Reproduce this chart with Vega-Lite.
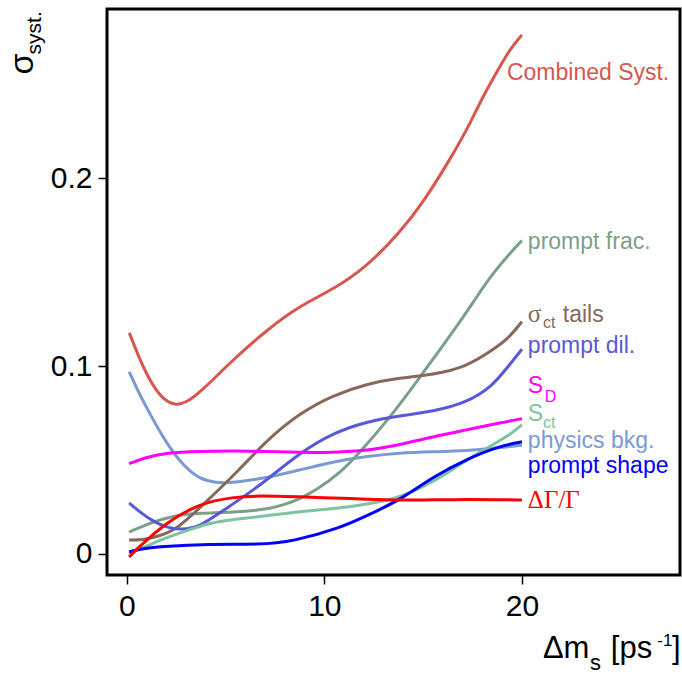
{
  "$schema": "https://vega.github.io/schema/vega-lite/v6.json",
  "width": 573,
  "height": 566,
  "autosize": {"type": "none"},
  "padding": {"left": 107, "top": 9, "right": 2, "bottom": 101},
  "background": "white",
  "config": {
    "view": {"stroke": "black", "strokeWidth": 3},
    "axis": {"domain": false, "grid": false, "tickColor": "black", "tickWidth": 1.5, "labelFont": "Liberation Sans", "labelFontSize": 30, "labelColor": "black"},
    "text": {"font": "Liberation Sans"}
  },
  "datasets": {
    "curves": [
      {"s": "Combined Syst.", "x": 0.13, "y": 0.1177}, {"s": "Combined Syst.", "x": 0.6, "y": 0.105}, {"s": "Combined Syst.", "x": 1.17, "y": 0.092}, {"s": "Combined Syst.", "x": 1.8, "y": 0.0825}, {"s": "Combined Syst.", "x": 2.44, "y": 0.079}, {"s": "Combined Syst.", "x": 3.0, "y": 0.0805}, {"s": "Combined Syst.", "x": 3.7, "y": 0.0858}, {"s": "Combined Syst.", "x": 5.37, "y": 0.1034}, {"s": "Combined Syst.", "x": 7.1, "y": 0.1194}, {"s": "Combined Syst.", "x": 8.76, "y": 0.1322}, {"s": "Combined Syst.", "x": 10.43, "y": 0.1407}, {"s": "Combined Syst.", "x": 12.15, "y": 0.153}, {"s": "Combined Syst.", "x": 13.82, "y": 0.1712}, {"s": "Combined Syst.", "x": 14.99, "y": 0.187}, {"s": "Combined Syst.", "x": 16.35, "y": 0.21}, {"s": "Combined Syst.", "x": 17.22, "y": 0.226}, {"s": "Combined Syst.", "x": 18.02, "y": 0.2437}, {"s": "Combined Syst.", "x": 18.89, "y": 0.2597}, {"s": "Combined Syst.", "x": 19.4, "y": 0.269}, {"s": "Combined Syst.", "x": 20.0, "y": 0.2765},

      {"s": "physics bkg.", "x": 0.12, "y": 0.097}, {"s": "physics bkg.", "x": 0.6, "y": 0.086}, {"s": "physics bkg.", "x": 1.2, "y": 0.074}, {"s": "physics bkg.", "x": 2.0, "y": 0.059}, {"s": "physics bkg.", "x": 2.9, "y": 0.0464}, {"s": "physics bkg.", "x": 3.7, "y": 0.0398}, {"s": "physics bkg.", "x": 4.5, "y": 0.0378}, {"s": "physics bkg.", "x": 5.4, "y": 0.0378}, {"s": "physics bkg.", "x": 7.1, "y": 0.0405}, {"s": "physics bkg.", "x": 8.8, "y": 0.0448}, {"s": "physics bkg.", "x": 10.4, "y": 0.049}, {"s": "physics bkg.", "x": 12.2, "y": 0.052}, {"s": "physics bkg.", "x": 13.8, "y": 0.0538}, {"s": "physics bkg.", "x": 15.5, "y": 0.0544}, {"s": "physics bkg.", "x": 17.2, "y": 0.0549}, {"s": "physics bkg.", "x": 18.9, "y": 0.0565}, {"s": "physics bkg.", "x": 20.0, "y": 0.058},

      {"s": "prompt frac.", "x": 0.12, "y": 0.0116}, {"s": "prompt frac.", "x": 1.2, "y": 0.0165}, {"s": "prompt frac.", "x": 2.4, "y": 0.0205}, {"s": "prompt frac.", "x": 3.7, "y": 0.0218}, {"s": "prompt frac.", "x": 5.4, "y": 0.022}, {"s": "prompt frac.", "x": 7.1, "y": 0.0237}, {"s": "prompt frac.", "x": 8.0, "y": 0.0262}, {"s": "prompt frac.", "x": 8.8, "y": 0.0295}, {"s": "prompt frac.", "x": 9.6, "y": 0.034}, {"s": "prompt frac.", "x": 10.8, "y": 0.043}, {"s": "prompt frac.", "x": 11.8, "y": 0.054}, {"s": "prompt frac.", "x": 13.3, "y": 0.0725}, {"s": "prompt frac.", "x": 14.2, "y": 0.085}, {"s": "prompt frac.", "x": 15.0, "y": 0.0965}, {"s": "prompt frac.", "x": 15.85, "y": 0.1088}, {"s": "prompt frac.", "x": 17.2, "y": 0.1285}, {"s": "prompt frac.", "x": 18.5, "y": 0.1498}, {"s": "prompt frac.", "x": 20.0, "y": 0.167},

      {"s": "σct tails", "x": 0.12, "y": 0.0074}, {"s": "σct tails", "x": 0.8, "y": 0.0074}, {"s": "σct tails", "x": 1.5, "y": 0.009}, {"s": "σct tails", "x": 2.5, "y": 0.0127}, {"s": "σct tails", "x": 3.7, "y": 0.0245}, {"s": "σct tails", "x": 5.7, "y": 0.0447}, {"s": "σct tails", "x": 7.1, "y": 0.0607}, {"s": "σct tails", "x": 8.76, "y": 0.075}, {"s": "σct tails", "x": 10.43, "y": 0.0845}, {"s": "σct tails", "x": 12.15, "y": 0.0906}, {"s": "σct tails", "x": 13.82, "y": 0.0938}, {"s": "σct tails", "x": 15.5, "y": 0.0954}, {"s": "σct tails", "x": 17.2, "y": 0.0997}, {"s": "σct tails", "x": 18.5, "y": 0.1085}, {"s": "σct tails", "x": 19.3, "y": 0.1145}, {"s": "σct tails", "x": 20.0, "y": 0.1237},

      {"s": "prompt dil.", "x": 0.12, "y": 0.0271}, {"s": "prompt dil.", "x": 0.7, "y": 0.022}, {"s": "prompt dil.", "x": 1.3, "y": 0.0175}, {"s": "prompt dil.", "x": 2.0, "y": 0.014}, {"s": "prompt dil.", "x": 2.8, "y": 0.0127}, {"s": "prompt dil.", "x": 3.7, "y": 0.0145}, {"s": "prompt dil.", "x": 4.7, "y": 0.0218}, {"s": "prompt dil.", "x": 6.0, "y": 0.031}, {"s": "prompt dil.", "x": 7.1, "y": 0.0394}, {"s": "prompt dil.", "x": 8.76, "y": 0.0538}, {"s": "prompt dil.", "x": 10.43, "y": 0.0644}, {"s": "prompt dil.", "x": 12.15, "y": 0.0705}, {"s": "prompt dil.", "x": 13.82, "y": 0.0736}, {"s": "prompt dil.", "x": 15.5, "y": 0.0758}, {"s": "prompt dil.", "x": 17.2, "y": 0.0805}, {"s": "prompt dil.", "x": 18.5, "y": 0.0893}, {"s": "prompt dil.", "x": 19.2, "y": 0.0985}, {"s": "prompt dil.", "x": 20.0, "y": 0.109},

      {"s": "SD", "x": 0.12, "y": 0.048}, {"s": "SD", "x": 1.0, "y": 0.0515}, {"s": "SD", "x": 2.0, "y": 0.0538}, {"s": "SD", "x": 3.7, "y": 0.0546}, {"s": "SD", "x": 5.4, "y": 0.0549}, {"s": "SD", "x": 7.1, "y": 0.0545}, {"s": "SD", "x": 8.8, "y": 0.054}, {"s": "SD", "x": 10.4, "y": 0.054}, {"s": "SD", "x": 12.2, "y": 0.0549}, {"s": "SD", "x": 13.8, "y": 0.058}, {"s": "SD", "x": 15.5, "y": 0.0624}, {"s": "SD", "x": 17.2, "y": 0.066}, {"s": "SD", "x": 18.9, "y": 0.0698}, {"s": "SD", "x": 20.0, "y": 0.072},

      {"s": "Sct", "x": 0.12, "y": 0.0005}, {"s": "Sct", "x": 1.0, "y": 0.004}, {"s": "Sct", "x": 1.7, "y": 0.0074}, {"s": "Sct", "x": 2.8, "y": 0.0115}, {"s": "Sct", "x": 4.2, "y": 0.0165}, {"s": "Sct", "x": 5.4, "y": 0.0183}, {"s": "Sct", "x": 6.7, "y": 0.0198}, {"s": "Sct", "x": 8.8, "y": 0.0225}, {"s": "Sct", "x": 10.8, "y": 0.0244}, {"s": "Sct", "x": 12.2, "y": 0.0265}, {"s": "Sct", "x": 13.8, "y": 0.0298}, {"s": "Sct", "x": 15.5, "y": 0.038}, {"s": "Sct", "x": 17.2, "y": 0.05}, {"s": "Sct", "x": 18.5, "y": 0.058}, {"s": "Sct", "x": 19.4, "y": 0.0634}, {"s": "Sct", "x": 20.0, "y": 0.0688},

      {"s": "prompt shape", "x": 0.12, "y": 0.001}, {"s": "prompt shape", "x": 0.6, "y": 0.0025}, {"s": "prompt shape", "x": 1.7, "y": 0.0038}, {"s": "prompt shape", "x": 4.2, "y": 0.0053}, {"s": "prompt shape", "x": 6.7, "y": 0.0048}, {"s": "prompt shape", "x": 8.4, "y": 0.0065}, {"s": "prompt shape", "x": 10.8, "y": 0.0137}, {"s": "prompt shape", "x": 12.2, "y": 0.0205}, {"s": "prompt shape", "x": 13.8, "y": 0.0285}, {"s": "prompt shape", "x": 15.5, "y": 0.041}, {"s": "prompt shape", "x": 17.2, "y": 0.0505}, {"s": "prompt shape", "x": 18.9, "y": 0.0575}, {"s": "prompt shape", "x": 20.0, "y": 0.0597},

      {"s": "ΔΓ/Γ", "x": 0.12, "y": -0.0017}, {"s": "ΔΓ/Γ", "x": 0.6, "y": 0.0035}, {"s": "ΔΓ/Γ", "x": 1.2, "y": 0.009}, {"s": "ΔΓ/Γ", "x": 2.0, "y": 0.0165}, {"s": "ΔΓ/Γ", "x": 3.7, "y": 0.027}, {"s": "ΔΓ/Γ", "x": 5.4, "y": 0.0302}, {"s": "ΔΓ/Γ", "x": 6.7, "y": 0.031}, {"s": "ΔΓ/Γ", "x": 8.8, "y": 0.0303}, {"s": "ΔΓ/Γ", "x": 10.4, "y": 0.0298}, {"s": "ΔΓ/Γ", "x": 12.2, "y": 0.029}, {"s": "ΔΓ/Γ", "x": 13.8, "y": 0.0285}, {"s": "ΔΓ/Γ", "x": 15.5, "y": 0.0288}, {"s": "ΔΓ/Γ", "x": 17.2, "y": 0.0289}, {"s": "ΔΓ/Γ", "x": 18.9, "y": 0.0288}, {"s": "ΔΓ/Γ", "x": 20.0, "y": 0.0287}
    ],
    "labels": [
      {"s": "Combined Syst.", "x": 19.24, "y": 0.2527, "t": "Combined Syst."},
      {"s": "prompt frac.", "x": 20.3, "y": 0.1626, "t": "prompt frac."},
      {"s": "σct tails", "x": 22.07, "y": 0.1237, "t": "tails"},
      {"s": "prompt dil.", "x": 20.3, "y": 0.1071, "t": "prompt dil."},
      {"s": "SD", "x": 20.3, "y": 0.0858, "t": "S"},
      {"s": "Sct", "x": 20.3, "y": 0.0708, "t": "S"},
      {"s": "physics bkg.", "x": 20.3, "y": 0.0562, "t": "physics bkg."},
      {"s": "prompt shape", "x": 20.3, "y": 0.0432, "t": "prompt shape"}
    ],
    "subs": [
      {"s": "σct tails", "x": 21.06, "y": 0.1205, "t": "ct"},
      {"s": "SD", "x": 21.16, "y": 0.081, "t": "D"},
      {"s": "Sct", "x": 21.06, "y": 0.0672, "t": "ct"}
    ],
    "serif": [
      {"s": "σct tails", "x": 20.3, "y": 0.1237, "t": "σ"},
      {"s": "ΔΓ/Γ", "x": 20.3, "y": 0.0245, "t": "ΔΓ/Γ"}
    ],
    "xtitleBig": [
      {"x": 21.06, "y": -0.0555, "t": "Δm"},
      {"x": 24.5, "y": -0.0555, "t": "[ps"},
      {"x": 27.59, "y": -0.0555, "t": "]"}
    ],
    "xtitleSubs": [
      {"x": 23.44, "y": -0.0619, "t": "s"}
    ],
    "xtitleSup": [
      {"x": 26.85, "y": -0.0493, "t": "-1"}
    ],
    "ytitleBig": [{"x": -4.75, "y": 0.2554, "t": "σ"}],
    "ytitleSmall": [{"x": -4.34, "y": 0.2661, "t": "syst."}]
  },
  "layer": [
    {
      "data": {"name": "curves"},
      "mark": {"type": "line", "interpolate": "basis", "strokeWidth": 3},
      "encoding": {
        "x": {"field": "x", "type": "quantitative", "scale": {"domain": [-1, 28], "nice": false, "zero": false}, "axis": {"values": [0, 10, 20], "tickSize": 9, "labelPadding": 7, "orient": "bottom", "title": null, "format": "d"}},
        "y": {"field": "y", "type": "quantitative", "scale": {"domain": [-0.0113, 0.2903], "nice": false, "zero": false}, "axis": {"values": [0, 0.1, 0.2], "tickSize": 9, "labelPadding": 6, "orient": "left", "title": null, "format": "~g"}},
        "color": {"field": "s", "type": "nominal", "legend": null, "scale": {
          "domain": ["Combined Syst.", "physics bkg.", "prompt frac.", "σct tails", "prompt dil.", "SD", "Sct", "prompt shape", "ΔΓ/Γ"],
          "range": ["#d7574f", "#7b9ad4", "#7c9f89", "#88685a", "#5858d8", "#ff00ff", "#7cc4a0", "#0000ff", "#ff0000"]}}
      }
    },
    {
      "layer": [
        {
          "mark": {"type": "rule", "color": "#444444", "strokeWidth": 1.2, "strokeDash": [1, 2]},
          "encoding": {"y": {"datum": 0, "type": "quantitative", "axis": null}}
        },
        {
          "data": {"name": "labels"},
          "mark": {"type": "text", "align": "left", "baseline": "alphabetic", "fontSize": 23},
          "encoding": {
            "x": {"field": "x", "type": "quantitative", "axis": {"values": [0, 2, 4, 6, 8, 10, 12, 14, 16, 18, 20, 22, 24, 26, 28], "tickSize": 5, "labels": false, "orient": "bottom", "title": null}},
            "y": {"field": "y", "type": "quantitative", "axis": {"values": [0, 0.02, 0.04, 0.06, 0.08, 0.1, 0.12, 0.14, 0.16, 0.18, 0.2, 0.22, 0.24, 0.26, 0.28], "tickSize": 5, "labels": false, "orient": "left", "title": null}},
            "text": {"field": "t"},
            "color": {"field": "s", "type": "nominal", "legend": null}
          }
        },
        {
          "data": {"name": "subs"},
          "mark": {"type": "text", "align": "left", "baseline": "alphabetic", "fontSize": 16},
          "encoding": {
            "x": {"field": "x", "type": "quantitative", "axis": null},
            "y": {"field": "y", "type": "quantitative", "axis": null},
            "text": {"field": "t"},
            "color": {"field": "s", "type": "nominal", "legend": null}
          }
        },
        {
          "data": {"name": "serif"},
          "mark": {"type": "text", "align": "left", "baseline": "alphabetic", "fontSize": 25, "font": "Liberation Serif"},
          "encoding": {
            "x": {"field": "x", "type": "quantitative", "axis": null},
            "y": {"field": "y", "type": "quantitative", "axis": null},
            "text": {"field": "t"},
            "color": {"field": "s", "type": "nominal", "legend": null}
          }
        },
        {
          "data": {"name": "xtitleBig"},
          "mark": {"type": "text", "align": "left", "baseline": "alphabetic", "fontSize": 31, "color": "black"},
          "encoding": {
            "x": {"field": "x", "type": "quantitative", "axis": null},
            "y": {"field": "y", "type": "quantitative", "axis": null},
            "text": {"field": "t"}
          }
        },
        {
          "data": {"name": "xtitleSubs"},
          "mark": {"type": "text", "align": "left", "baseline": "alphabetic", "fontSize": 22, "color": "black"},
          "encoding": {
            "x": {"field": "x", "type": "quantitative", "axis": null},
            "y": {"field": "y", "type": "quantitative", "axis": null},
            "text": {"field": "t"}
          }
        },
        {
          "data": {"name": "xtitleSup"},
          "mark": {"type": "text", "align": "left", "baseline": "alphabetic", "fontSize": 17, "color": "black"},
          "encoding": {
            "x": {"field": "x", "type": "quantitative", "axis": null},
            "y": {"field": "y", "type": "quantitative", "axis": null},
            "text": {"field": "t"}
          }
        },
        {
          "data": {"name": "ytitleBig"},
          "mark": {"type": "text", "align": "left", "baseline": "alphabetic", "fontSize": 34, "angle": 270, "color": "black"},
          "encoding": {
            "x": {"field": "x", "type": "quantitative", "axis": null},
            "y": {"field": "y", "type": "quantitative", "axis": null},
            "text": {"field": "t"}
          }
        },
        {
          "data": {"name": "ytitleSmall"},
          "mark": {"type": "text", "align": "left", "baseline": "alphabetic", "fontSize": 21, "angle": 270, "color": "black"},
          "encoding": {
            "x": {"field": "x", "type": "quantitative", "axis": null},
            "y": {"field": "y", "type": "quantitative", "axis": null},
            "text": {"field": "t"}
          }
        }
      ]
    }
  ],
  "resolve": {"axis": {"x": "independent", "y": "independent"}}
}
